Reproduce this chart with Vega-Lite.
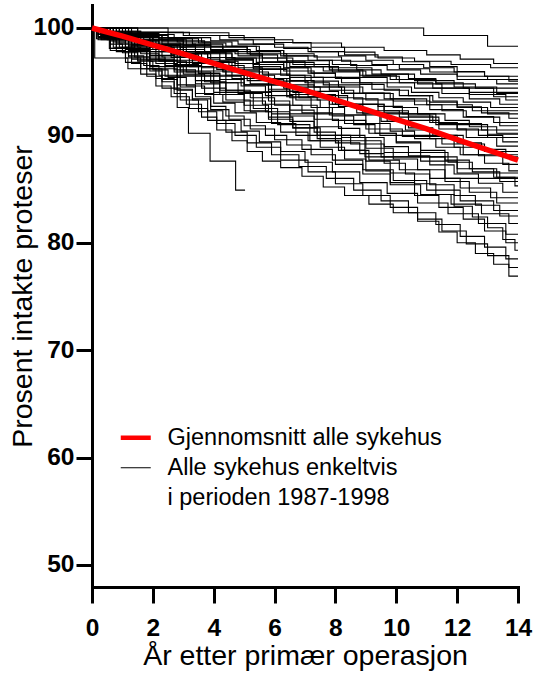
{
  "$schema": "https://vega.github.io/schema/vega-lite/v6.json",
  "width": 426,
  "height": 582,
  "autosize": {"type": "none"},
  "padding": {"left": 92, "top": 5, "right": 18, "bottom": 87},
  "background": "white",
  "config": {
    "view": {"stroke": null},
    "font": "Liberation Sans",
    "axis": {
      "domainColor": "black", "domainWidth": 3, "domainCap": "square",
      "tickColor": "black", "tickWidth": 3, "tickSize": 16,
      "labelColor": "black", "labelFont": "Liberation Sans", "labelFontSize": 24.5, "labelFontWeight": "bold",
      "titleFont": "Liberation Sans", "titleFontSize": 28.5, "titleFontWeight": "normal", "titleColor": "black",
      "grid": false
    }
  },
  "datasets": {
    "snitt": [
      {"t":0,"p":100},{"t":1,"p":99.25},{"t":2,"p":98.4},{"t":3,"p":97.6},{"t":4,"p":96.7},{"t":5,"p":95.85},{"t":6,"p":95.0},{"t":7,"p":94.2},
      {"t":8,"p":93.3},{"t":9,"p":92.4},{"t":10,"p":91.5},{"t":11,"p":90.6},{"t":12,"p":89.6},{"t":13,"p":88.65},{"t":14,"p":87.7}
    ],
    "sykehus": [
      {"h":"s01","t":0,"p":100},{"h":"s01","t":10.9,"p":99.3},{"h":"s01","t":13,"p":98.3},{"h":"s01","t":14,"p":98.3},
      {"h":"s02","t":0,"p":100},{"h":"s02","t":1.5,"p":99.6},{"h":"s02","t":3.2,"p":99.3},{"h":"s02","t":5,"p":98.9},{"h":"s02","t":6.6,"p":98.6},{"h":"s02","t":8.2,"p":98.2},{"h":"s02","t":9.6,"p":97.9},{"h":"s02","t":11,"p":97.5},{"h":"s02","t":12.1,"p":97.1},{"h":"s02","t":13.2,"p":96.7},{"h":"s02","t":14,"p":96.7},
      {"h":"s03","t":0,"p":100},{"h":"s03","t":0.5,"p":99.7},{"h":"s03","t":1.6,"p":99.4},{"h":"s03","t":2.7,"p":99.1},{"h":"s03","t":3.9,"p":98.8},{"h":"s03","t":4.8,"p":98.5},{"h":"s03","t":6,"p":98.2},{"h":"s03","t":7.1,"p":97.8},{"h":"s03","t":8.3,"p":97.5},{"h":"s03","t":9.4,"p":97.2},{"h":"s03","t":10.6,"p":96.9},{"h":"s03","t":11.8,"p":96.6},{"h":"s03","t":13.1,"p":96.3},{"h":"s03","t":14,"p":96.3},
      {"h":"s04","t":0,"p":100},{"h":"s04","t":1.5,"p":99.6},{"h":"s04","t":3,"p":99.3},{"h":"s04","t":4.2,"p":98.9},{"h":"s04","t":5.3,"p":98.5},{"h":"s04","t":6.3,"p":98.1},{"h":"s04","t":7.2,"p":97.8},{"h":"s04","t":8.1,"p":97.4},{"h":"s04","t":9,"p":97},{"h":"s04","t":9.9,"p":96.6},{"h":"s04","t":10.9,"p":96.3},{"h":"s04","t":11.9,"p":95.9},{"h":"s04","t":12.9,"p":95.5},{"h":"s04","t":14,"p":95.5},
      {"h":"s05","t":0,"p":100},{"h":"s05","t":0.7,"p":99.7},{"h":"s05","t":1.6,"p":99.3},{"h":"s05","t":2.5,"p":99},{"h":"s05","t":3.5,"p":98.6},{"h":"s05","t":4.4,"p":98.3},{"h":"s05","t":5.4,"p":97.9},{"h":"s05","t":6.3,"p":97.6},{"h":"s05","t":7.3,"p":97.3},{"h":"s05","t":8.2,"p":96.9},{"h":"s05","t":9.2,"p":96.6},{"h":"s05","t":10.1,"p":96.2},{"h":"s05","t":11.1,"p":95.9},{"h":"s05","t":12,"p":95.5},{"h":"s05","t":13,"p":95.2},{"h":"s05","t":14,"p":95.2},
      {"h":"s06","t":0,"p":100},{"h":"s06","t":0.4,"p":99.6},{"h":"s06","t":1.5,"p":99.1},{"h":"s06","t":2.8,"p":98.7},{"h":"s06","t":3.9,"p":98.3},{"h":"s06","t":5.1,"p":97.8},{"h":"s06","t":6.2,"p":97.4},{"h":"s06","t":7.4,"p":97},{"h":"s06","t":8.5,"p":96.5},{"h":"s06","t":9.7,"p":96.1},{"h":"s06","t":10.8,"p":95.7},{"h":"s06","t":12,"p":95.2},{"h":"s06","t":13.3,"p":94.8},{"h":"s06","t":14,"p":94.8},
      {"h":"s07","t":0,"p":100},{"h":"s07","t":0.3,"p":99.6},{"h":"s07","t":0.9,"p":99.2},{"h":"s07","t":1.5,"p":98.8},{"h":"s07","t":2.2,"p":98.4},{"h":"s07","t":2.9,"p":98},{"h":"s07","t":3.7,"p":97.6},{"h":"s07","t":4.6,"p":97.2},{"h":"s07","t":5.5,"p":96.8},{"h":"s07","t":6.5,"p":96.4},{"h":"s07","t":7.6,"p":96},{"h":"s07","t":8.8,"p":95.6},{"h":"s07","t":10,"p":95.2},{"h":"s07","t":11.3,"p":94.8},{"h":"s07","t":12.6,"p":94.4},{"h":"s07","t":14,"p":94.4},
      {"h":"s08","t":0,"p":100},{"h":"s08","t":1.2,"p":99.6},{"h":"s08","t":2.5,"p":99.1},{"h":"s08","t":3.6,"p":98.7},{"h":"s08","t":4.6,"p":98.3},{"h":"s08","t":5.5,"p":97.9},{"h":"s08","t":6.3,"p":97.4},{"h":"s08","t":7.1,"p":97},{"h":"s08","t":7.9,"p":96.6},{"h":"s08","t":8.7,"p":96.1},{"h":"s08","t":9.5,"p":95.7},{"h":"s08","t":10.4,"p":95.3},{"h":"s08","t":11.3,"p":94.9},{"h":"s08","t":12.2,"p":94.4},{"h":"s08","t":13.2,"p":94},{"h":"s08","t":14,"p":94},
      {"h":"s09","t":0,"p":100},{"h":"s09","t":0.5,"p":99.6},{"h":"s09","t":1.3,"p":99.2},{"h":"s09","t":2.2,"p":98.8},{"h":"s09","t":3,"p":98.4},{"h":"s09","t":3.9,"p":98},{"h":"s09","t":4.7,"p":97.6},{"h":"s09","t":5.6,"p":97.2},{"h":"s09","t":6.4,"p":96.8},{"h":"s09","t":7.3,"p":96.4},{"h":"s09","t":8.1,"p":96},{"h":"s09","t":9,"p":95.6},{"h":"s09","t":9.8,"p":95.2},{"h":"s09","t":10.7,"p":94.8},{"h":"s09","t":11.5,"p":94.4},{"h":"s09","t":12.4,"p":94},{"h":"s09","t":13.2,"p":93.6},{"h":"s09","t":14,"p":93.6},
      {"h":"s10","t":0,"p":100},{"h":"s10","t":0.8,"p":99.4},{"h":"s10","t":2,"p":98.9},{"h":"s10","t":3.1,"p":98.3},{"h":"s10","t":4.3,"p":97.8},{"h":"s10","t":5.5,"p":97.2},{"h":"s10","t":6.6,"p":96.6},{"h":"s10","t":7.8,"p":96.1},{"h":"s10","t":8.9,"p":95.5},{"h":"s10","t":10.1,"p":94.9},{"h":"s10","t":11.2,"p":94.4},{"h":"s10","t":12.4,"p":93.8},{"h":"s10","t":13.6,"p":93.3},{"h":"s10","t":14,"p":93.3},
      {"h":"s11","t":0,"p":100},{"h":"s11","t":1,"p":99.5},{"h":"s11","t":2.2,"p":99},{"h":"s11","t":3.3,"p":98.5},{"h":"s11","t":4.3,"p":98},{"h":"s11","t":5.2,"p":97.5},{"h":"s11","t":6.1,"p":96.9},{"h":"s11","t":7,"p":96.4},{"h":"s11","t":7.9,"p":95.9},{"h":"s11","t":8.8,"p":95.4},{"h":"s11","t":9.7,"p":94.9},{"h":"s11","t":10.6,"p":94.4},{"h":"s11","t":11.5,"p":93.9},{"h":"s11","t":12.4,"p":93.4},{"h":"s11","t":13.4,"p":92.9},{"h":"s11","t":14,"p":92.9},
      {"h":"s12","t":0,"p":100},{"h":"s12","t":0.3,"p":99.5},{"h":"s12","t":1.2,"p":99.1},{"h":"s12","t":2,"p":98.6},{"h":"s12","t":2.9,"p":98.2},{"h":"s12","t":3.7,"p":97.7},{"h":"s12","t":4.6,"p":97.2},{"h":"s12","t":5.4,"p":96.8},{"h":"s12","t":6.3,"p":96.3},{"h":"s12","t":7.1,"p":95.8},{"h":"s12","t":8,"p":95.4},{"h":"s12","t":8.8,"p":94.9},{"h":"s12","t":9.7,"p":94.5},{"h":"s12","t":10.5,"p":94},{"h":"s12","t":11.4,"p":93.5},{"h":"s12","t":12.2,"p":93.1},{"h":"s12","t":13.1,"p":92.6},{"h":"s12","t":14,"p":92.6},
      {"h":"s13","t":0,"p":100},{"h":"s13","t":0.2,"p":99.45},{"h":"s13","t":0.7,"p":98.9},{"h":"s13","t":1.3,"p":98.35},{"h":"s13","t":1.9,"p":97.8},{"h":"s13","t":2.6,"p":97.25},{"h":"s13","t":3.3,"p":96.7},{"h":"s13","t":4.1,"p":96.15},{"h":"s13","t":5,"p":95.6},{"h":"s13","t":6,"p":95.05},{"h":"s13","t":7.1,"p":94.5},{"h":"s13","t":8.3,"p":93.95},{"h":"s13","t":9.6,"p":93.4},{"h":"s13","t":11,"p":92.85},{"h":"s13","t":12.5,"p":92.3},{"h":"s13","t":14,"p":92.3},
      {"h":"s14","t":0,"p":100},{"h":"s14","t":0.6,"p":99.4},{"h":"s14","t":1.5,"p":98.9},{"h":"s14","t":2.5,"p":98.3},{"h":"s14","t":3.4,"p":97.7},{"h":"s14","t":4.4,"p":97.1},{"h":"s14","t":5.3,"p":96.6},{"h":"s14","t":6.3,"p":96},{"h":"s14","t":7.3,"p":95.4},{"h":"s14","t":8.2,"p":94.9},{"h":"s14","t":9.2,"p":94.3},{"h":"s14","t":10.1,"p":93.7},{"h":"s14","t":11.1,"p":93.1},{"h":"s14","t":12,"p":92.6},{"h":"s14","t":13,"p":92},{"h":"s14","t":14,"p":92},
      {"h":"s15","t":0,"p":100},{"h":"s15","t":0.9,"p":99.5},{"h":"s15","t":2,"p":98.95},{"h":"s15","t":3,"p":98.4},{"h":"s15","t":3.9,"p":97.9},{"h":"s15","t":4.8,"p":97.4},{"h":"s15","t":5.6,"p":96.85},{"h":"s15","t":6.4,"p":96.3},{"h":"s15","t":7.2,"p":95.8},{"h":"s15","t":8,"p":95.3},{"h":"s15","t":8.8,"p":94.75},{"h":"s15","t":9.6,"p":94.2},{"h":"s15","t":10.4,"p":93.7},{"h":"s15","t":11.2,"p":93.2},{"h":"s15","t":12,"p":92.65},{"h":"s15","t":12.8,"p":92.1},{"h":"s15","t":13.7,"p":91.6},{"h":"s15","t":14,"p":91.6},
      {"h":"s16","t":0,"p":100},{"h":"s16","t":0.4,"p":99.45},{"h":"s16","t":1.3,"p":98.9},{"h":"s16","t":2.1,"p":98.35},{"h":"s16","t":3,"p":97.8},{"h":"s16","t":3.8,"p":97.25},{"h":"s16","t":4.7,"p":96.7},{"h":"s16","t":5.5,"p":96.15},{"h":"s16","t":6.4,"p":95.6},{"h":"s16","t":7.2,"p":95.05},{"h":"s16","t":8.1,"p":94.5},{"h":"s16","t":8.9,"p":93.95},{"h":"s16","t":9.8,"p":93.4},{"h":"s16","t":10.6,"p":92.85},{"h":"s16","t":11.5,"p":92.3},{"h":"s16","t":12.3,"p":91.75},{"h":"s16","t":13.2,"p":91.2},{"h":"s16","t":14,"p":91.2},
      {"h":"s17","t":0,"p":100},{"h":"s17","t":0.7,"p":99.2},{"h":"s17","t":1.9,"p":98.5},{"h":"s17","t":3,"p":97.7},{"h":"s17","t":4.2,"p":97},{"h":"s17","t":5.3,"p":96.2},{"h":"s17","t":6.5,"p":95.4},{"h":"s17","t":7.6,"p":94.7},{"h":"s17","t":8.8,"p":93.9},{"h":"s17","t":9.9,"p":93.2},{"h":"s17","t":11.1,"p":92.4},{"h":"s17","t":12.2,"p":91.7},{"h":"s17","t":13.4,"p":90.9},{"h":"s17","t":14,"p":90.9},
      {"h":"s18","t":0,"p":100},{"h":"s18","t":0.2,"p":99.4},{"h":"s18","t":0.6,"p":98.8},{"h":"s18","t":1.1,"p":98.2},{"h":"s18","t":1.6,"p":97.6},{"h":"s18","t":2.2,"p":97},{"h":"s18","t":2.8,"p":96.4},{"h":"s18","t":3.5,"p":95.8},{"h":"s18","t":4.2,"p":95.2},{"h":"s18","t":5,"p":94.7},{"h":"s18","t":5.8,"p":94.1},{"h":"s18","t":6.8,"p":93.5},{"h":"s18","t":7.8,"p":92.9},{"h":"s18","t":8.9,"p":92.3},{"h":"s18","t":10.1,"p":91.7},{"h":"s18","t":11.4,"p":91.1},{"h":"s18","t":12.8,"p":90.5},{"h":"s18","t":14,"p":90.5},
      {"h":"s19","t":0,"p":100},{"h":"s19","t":0.5,"p":99.4},{"h":"s19","t":1.4,"p":98.8},{"h":"s19","t":2.2,"p":98.2},{"h":"s19","t":3.1,"p":97.6},{"h":"s19","t":3.9,"p":96.9},{"h":"s19","t":4.8,"p":96.3},{"h":"s19","t":5.6,"p":95.7},{"h":"s19","t":6.5,"p":95.1},{"h":"s19","t":7.3,"p":94.5},{"h":"s19","t":8.2,"p":93.9},{"h":"s19","t":9,"p":93.3},{"h":"s19","t":9.9,"p":92.6},{"h":"s19","t":10.7,"p":92},{"h":"s19","t":11.6,"p":91.4},{"h":"s19","t":12.4,"p":90.8},{"h":"s19","t":13.3,"p":90.2},{"h":"s19","t":14,"p":90.2},
      {"h":"s20","t":0,"p":100},{"h":"s20","t":1.1,"p":99.3},{"h":"s20","t":2.3,"p":98.5},{"h":"s20","t":3.4,"p":97.8},{"h":"s20","t":4.4,"p":97.1},{"h":"s20","t":5.3,"p":96.4},{"h":"s20","t":6.2,"p":95.6},{"h":"s20","t":7,"p":94.9},{"h":"s20","t":7.8,"p":94.2},{"h":"s20","t":8.6,"p":93.4},{"h":"s20","t":9.4,"p":92.7},{"h":"s20","t":10.2,"p":92},{"h":"s20","t":11.1,"p":91.2},{"h":"s20","t":12,"p":90.5},{"h":"s20","t":13,"p":89.8},{"h":"s20","t":14,"p":89.8},
      {"h":"s21","t":0,"p":100},{"h":"s21","t":0.3,"p":99.4},{"h":"s21","t":1.1,"p":98.8},{"h":"s21","t":1.9,"p":98.2},{"h":"s21","t":2.7,"p":97.6},{"h":"s21","t":3.4,"p":97.1},{"h":"s21","t":4.2,"p":96.5},{"h":"s21","t":5,"p":95.9},{"h":"s21","t":5.8,"p":95.3},{"h":"s21","t":6.5,"p":94.7},{"h":"s21","t":7.3,"p":94.1},{"h":"s21","t":8.1,"p":93.5},{"h":"s21","t":8.9,"p":92.9},{"h":"s21","t":9.6,"p":92.3},{"h":"s21","t":10.4,"p":91.8},{"h":"s21","t":11.2,"p":91.2},{"h":"s21","t":12,"p":90.6},{"h":"s21","t":12.7,"p":90},{"h":"s21","t":13.5,"p":89.4},{"h":"s21","t":14,"p":89.4},
      {"h":"s22","t":0,"p":100},{"h":"s22","t":0.6,"p":99.2},{"h":"s22","t":1.6,"p":98.4},{"h":"s22","t":2.6,"p":97.6},{"h":"s22","t":3.6,"p":96.9},{"h":"s22","t":4.5,"p":96.1},{"h":"s22","t":5.5,"p":95.3},{"h":"s22","t":6.5,"p":94.5},{"h":"s22","t":7.5,"p":93.7},{"h":"s22","t":8.4,"p":92.9},{"h":"s22","t":9.4,"p":92.1},{"h":"s22","t":10.4,"p":91.4},{"h":"s22","t":11.4,"p":90.6},{"h":"s22","t":12.3,"p":89.8},{"h":"s22","t":13.3,"p":89},{"h":"s22","t":14,"p":89},
      {"h":"s23","t":0,"p":100},{"h":"s23","t":0.3,"p":99.3},{"h":"s23","t":0.8,"p":98.6},{"h":"s23","t":1.3,"p":97.8},{"h":"s23","t":1.8,"p":97.1},{"h":"s23","t":2.4,"p":96.4},{"h":"s23","t":3,"p":95.7},{"h":"s23","t":3.7,"p":95},{"h":"s23","t":4.4,"p":94.2},{"h":"s23","t":5.2,"p":93.5},{"h":"s23","t":6,"p":92.8},{"h":"s23","t":6.9,"p":92.1},{"h":"s23","t":7.9,"p":91.4},{"h":"s23","t":9,"p":90.6},{"h":"s23","t":10.2,"p":89.9},{"h":"s23","t":11.5,"p":89.2},{"h":"s23","t":12.9,"p":88.5},{"h":"s23","t":14,"p":88.5},
      {"h":"s24","t":0,"p":100},{"h":"s24","t":0.4,"p":99.3},{"h":"s24","t":1.2,"p":98.7},{"h":"s24","t":2,"p":98},{"h":"s24","t":2.7,"p":97.3},{"h":"s24","t":3.5,"p":96.7},{"h":"s24","t":4.3,"p":96},{"h":"s24","t":5,"p":95.3},{"h":"s24","t":5.8,"p":94.7},{"h":"s24","t":6.6,"p":94},{"h":"s24","t":7.4,"p":93.3},{"h":"s24","t":8.1,"p":92.7},{"h":"s24","t":8.9,"p":92},{"h":"s24","t":9.7,"p":91.3},{"h":"s24","t":10.4,"p":90.7},{"h":"s24","t":11.2,"p":90},{"h":"s24","t":12,"p":89.3},{"h":"s24","t":12.8,"p":88.7},{"h":"s24","t":13.6,"p":88},{"h":"s24","t":14,"p":88},
      {"h":"s25","t":0,"p":100},{"h":"s25","t":0.8,"p":99.2},{"h":"s25","t":1.9,"p":98.4},{"h":"s25","t":2.9,"p":97.6},{"h":"s25","t":3.8,"p":96.8},{"h":"s25","t":4.7,"p":96},{"h":"s25","t":5.5,"p":95.2},{"h":"s25","t":6.3,"p":94.4},{"h":"s25","t":7.1,"p":93.6},{"h":"s25","t":7.9,"p":92.9},{"h":"s25","t":8.7,"p":92.1},{"h":"s25","t":9.5,"p":91.3},{"h":"s25","t":10.3,"p":90.5},{"h":"s25","t":11.1,"p":89.7},{"h":"s25","t":11.9,"p":88.9},{"h":"s25","t":12.7,"p":88.1},{"h":"s25","t":13.5,"p":87.3},{"h":"s25","t":14,"p":87.3},
      {"h":"s26","t":0,"p":100},{"h":"s26","t":0.5,"p":99.3},{"h":"s26","t":1.3,"p":98.5},{"h":"s26","t":2.1,"p":97.8},{"h":"s26","t":2.9,"p":97},{"h":"s26","t":3.6,"p":96.3},{"h":"s26","t":4.4,"p":95.6},{"h":"s26","t":5.2,"p":94.8},{"h":"s26","t":5.9,"p":94.1},{"h":"s26","t":6.7,"p":93.3},{"h":"s26","t":7.5,"p":92.6},{"h":"s26","t":8.3,"p":91.9},{"h":"s26","t":9,"p":91.1},{"h":"s26","t":9.8,"p":90.4},{"h":"s26","t":10.6,"p":89.7},{"h":"s26","t":11.3,"p":88.9},{"h":"s26","t":12.1,"p":88.2},{"h":"s26","t":12.9,"p":87.4},{"h":"s26","t":13.7,"p":86.7},{"h":"s26","t":14,"p":86.7},
      {"h":"s27","t":0,"p":100},{"h":"s27","t":0.2,"p":99.2},{"h":"s27","t":0.6,"p":98.5},{"h":"s27","t":1,"p":97.7},{"h":"s27","t":1.5,"p":96.9},{"h":"s27","t":2,"p":96.1},{"h":"s27","t":2.5,"p":95.4},{"h":"s27","t":3.1,"p":94.6},{"h":"s27","t":3.7,"p":93.8},{"h":"s27","t":4.3,"p":93.1},{"h":"s27","t":5,"p":92.3},{"h":"s27","t":5.8,"p":91.5},{"h":"s27","t":6.6,"p":90.7},{"h":"s27","t":7.5,"p":90},{"h":"s27","t":8.5,"p":89.2},{"h":"s27","t":9.6,"p":88.4},{"h":"s27","t":10.8,"p":87.6},{"h":"s27","t":12,"p":86.9},{"h":"s27","t":13.3,"p":86.1},{"h":"s27","t":14,"p":86.1},
      {"h":"s28","t":0,"p":100},{"h":"s28","t":0.6,"p":99.1},{"h":"s28","t":1.5,"p":98.2},{"h":"s28","t":2.3,"p":97.3},{"h":"s28","t":3.2,"p":96.4},{"h":"s28","t":4,"p":95.5},{"h":"s28","t":4.9,"p":94.6},{"h":"s28","t":5.7,"p":93.7},{"h":"s28","t":6.6,"p":92.8},{"h":"s28","t":7.4,"p":92},{"h":"s28","t":8.3,"p":91.1},{"h":"s28","t":9.1,"p":90.2},{"h":"s28","t":10,"p":89.3},{"h":"s28","t":10.8,"p":88.4},{"h":"s28","t":11.7,"p":87.5},{"h":"s28","t":12.5,"p":86.6},{"h":"s28","t":13.4,"p":85.7},{"h":"s28","t":14,"p":85.7},
      {"h":"s29","t":0,"p":100},{"h":"s29","t":0.7,"p":99.2},{"h":"s29","t":1.7,"p":98.4},{"h":"s29","t":2.6,"p":97.5},{"h":"s29","t":3.5,"p":96.7},{"h":"s29","t":4.3,"p":95.9},{"h":"s29","t":5.1,"p":95.1},{"h":"s29","t":5.8,"p":94.3},{"h":"s29","t":6.5,"p":93.5},{"h":"s29","t":7.2,"p":92.6},{"h":"s29","t":7.9,"p":91.8},{"h":"s29","t":8.6,"p":91},{"h":"s29","t":9.3,"p":90.2},{"h":"s29","t":10,"p":89.4},{"h":"s29","t":10.8,"p":88.6},{"h":"s29","t":11.6,"p":87.7},{"h":"s29","t":12.4,"p":86.9},{"h":"s29","t":13.2,"p":86.1},{"h":"s29","t":13.9,"p":85.3},{"h":"s29","t":14,"p":85.3},
      {"h":"s30","t":0,"p":100},{"h":"s30","t":0.4,"p":99.15},{"h":"s30","t":1.2,"p":98.3},{"h":"s30","t":1.9,"p":97.45},{"h":"s30","t":2.7,"p":96.6},{"h":"s30","t":3.5,"p":95.75},{"h":"s30","t":4.2,"p":94.9},{"h":"s30","t":5,"p":94.05},{"h":"s30","t":5.8,"p":93.2},{"h":"s30","t":6.5,"p":92.35},{"h":"s30","t":7.3,"p":91.5},{"h":"s30","t":8.1,"p":90.65},{"h":"s30","t":8.8,"p":89.8},{"h":"s30","t":9.6,"p":88.95},{"h":"s30","t":10.4,"p":88.1},{"h":"s30","t":11.1,"p":87.25},{"h":"s30","t":11.9,"p":86.4},{"h":"s30","t":12.7,"p":85.55},{"h":"s30","t":13.5,"p":84.7},{"h":"s30","t":14,"p":84.7},
      {"h":"s31","t":0,"p":100},{"h":"s31","t":0.3,"p":99.1},{"h":"s31","t":0.7,"p":98.2},{"h":"s31","t":1.2,"p":97.4},{"h":"s31","t":1.7,"p":96.5},{"h":"s31","t":2.2,"p":95.6},{"h":"s31","t":2.8,"p":94.7},{"h":"s31","t":3.4,"p":93.9},{"h":"s31","t":4,"p":93},{"h":"s31","t":4.7,"p":92.1},{"h":"s31","t":5.4,"p":91.2},{"h":"s31","t":6.2,"p":90.3},{"h":"s31","t":7.1,"p":89.5},{"h":"s31","t":8.1,"p":88.6},{"h":"s31","t":9.1,"p":87.7},{"h":"s31","t":10.1,"p":86.8},{"h":"s31","t":11.1,"p":86},{"h":"s31","t":12.1,"p":85.1},{"h":"s31","t":13.1,"p":84.2},{"h":"s31","t":14,"p":84.2},
      {"h":"s32","t":0,"p":100},{"h":"s32","t":0.5,"p":99},{"h":"s32","t":1.4,"p":98},{"h":"s32","t":2.2,"p":96.9},{"h":"s32","t":3.1,"p":95.9},{"h":"s32","t":3.9,"p":94.9},{"h":"s32","t":4.8,"p":93.9},{"h":"s32","t":5.6,"p":92.9},{"h":"s32","t":6.5,"p":91.8},{"h":"s32","t":7.3,"p":90.8},{"h":"s32","t":8.2,"p":89.8},{"h":"s32","t":9,"p":88.8},{"h":"s32","t":9.9,"p":87.8},{"h":"s32","t":10.7,"p":86.8},{"h":"s32","t":11.6,"p":85.7},{"h":"s32","t":12.4,"p":84.7},{"h":"s32","t":13.3,"p":83.7},{"h":"s32","t":14,"p":83.7},
      {"h":"s33","t":0,"p":100},{"h":"s33","t":0.2,"p":99.1},{"h":"s33","t":0.6,"p":98.1},{"h":"s33","t":1.1,"p":97.2},{"h":"s33","t":1.6,"p":96.2},{"h":"s33","t":2.1,"p":95.3},{"h":"s33","t":2.7,"p":94.3},{"h":"s33","t":3.3,"p":93.4},{"h":"s33","t":3.9,"p":92.4},{"h":"s33","t":4.5,"p":91.5},{"h":"s33","t":5.2,"p":90.6},{"h":"s33","t":6,"p":89.6},{"h":"s33","t":6.9,"p":88.7},{"h":"s33","t":7.9,"p":87.7},{"h":"s33","t":8.9,"p":86.8},{"h":"s33","t":9.9,"p":85.8},{"h":"s33","t":11,"p":84.9},{"h":"s33","t":12.1,"p":83.9},{"h":"s33","t":13.2,"p":83},{"h":"s33","t":14,"p":83},
      {"h":"s34","t":0,"p":100},{"h":"s34","t":0.4,"p":99},{"h":"s34","t":1.1,"p":98.1},{"h":"s34","t":1.9,"p":97.1},{"h":"s34","t":2.7,"p":96.1},{"h":"s34","t":3.4,"p":95.1},{"h":"s34","t":4.2,"p":94.2},{"h":"s34","t":5,"p":93.2},{"h":"s34","t":5.7,"p":92.2},{"h":"s34","t":6.5,"p":91.3},{"h":"s34","t":7.3,"p":90.3},{"h":"s34","t":8,"p":89.3},{"h":"s34","t":8.8,"p":88.3},{"h":"s34","t":9.6,"p":87.4},{"h":"s34","t":10.3,"p":86.4},{"h":"s34","t":11.1,"p":85.4},{"h":"s34","t":11.9,"p":84.4},{"h":"s34","t":12.6,"p":83.5},{"h":"s34","t":13.4,"p":82.5},{"h":"s34","t":14,"p":82.5},
      {"h":"s35","t":0,"p":100},{"h":"s35","t":0.4,"p":99.1},{"h":"s35","t":0.9,"p":98.2},{"h":"s35","t":1.4,"p":97.3},{"h":"s35","t":1.9,"p":96.4},{"h":"s35","t":2.4,"p":95.5},{"h":"s35","t":2.9,"p":94.5},{"h":"s35","t":3.4,"p":93.6},{"h":"s35","t":3.9,"p":92.7},{"h":"s35","t":4.4,"p":91.8},{"h":"s35","t":5,"p":90.9},{"h":"s35","t":5.7,"p":90},{"h":"s35","t":6.4,"p":89.1},{"h":"s35","t":7.2,"p":88.2},{"h":"s35","t":8,"p":87.3},{"h":"s35","t":8.9,"p":86.4},{"h":"s35","t":9.8,"p":85.4},{"h":"s35","t":10.8,"p":84.5},{"h":"s35","t":11.8,"p":83.6},{"h":"s35","t":12.8,"p":82.7},{"h":"s35","t":13.7,"p":81.8},{"h":"s35","t":14,"p":81.8},
      {"h":"s36","t":0,"p":100},{"h":"s36","t":0.3,"p":99},{"h":"s36","t":0.8,"p":98.1},{"h":"s36","t":1.3,"p":97.1},{"h":"s36","t":1.8,"p":96.2},{"h":"s36","t":2.3,"p":95.2},{"h":"s36","t":2.8,"p":94.2},{"h":"s36","t":3.3,"p":93.3},{"h":"s36","t":3.8,"p":92.3},{"h":"s36","t":4.3,"p":91.4},{"h":"s36","t":4.9,"p":90.4},{"h":"s36","t":5.5,"p":89.4},{"h":"s36","t":6.2,"p":88.5},{"h":"s36","t":7,"p":87.5},{"h":"s36","t":7.9,"p":86.6},{"h":"s36","t":8.8,"p":85.6},{"h":"s36","t":9.7,"p":84.6},{"h":"s36","t":10.7,"p":83.7},{"h":"s36","t":11.7,"p":82.7},{"h":"s36","t":12.7,"p":81.8},{"h":"s36","t":13.6,"p":80.8},{"h":"s36","t":14,"p":80.8},
      {"h":"s37","t":0,"p":100},{"h":"s37","t":0.5,"p":98.9},{"h":"s37","t":1.3,"p":97.8},{"h":"s37","t":2.1,"p":96.7},{"h":"s37","t":2.8,"p":95.6},{"h":"s37","t":3.6,"p":94.4},{"h":"s37","t":4.4,"p":93.3},{"h":"s37","t":5.2,"p":92.2},{"h":"s37","t":5.9,"p":91.1},{"h":"s37","t":6.7,"p":90},{"h":"s37","t":7.5,"p":88.9},{"h":"s37","t":8.3,"p":87.8},{"h":"s37","t":9,"p":86.7},{"h":"s37","t":9.8,"p":85.6},{"h":"s37","t":10.6,"p":84.4},{"h":"s37","t":11.4,"p":83.3},{"h":"s37","t":12.2,"p":82.2},{"h":"s37","t":12.9,"p":81.1},{"h":"s37","t":13.6,"p":80},{"h":"s37","t":14,"p":80},
      {"h":"s38","t":0,"p":100},{"h":"s38","t":0.4,"p":99},{"h":"s38","t":1.2,"p":97.9},{"h":"s38","t":1.9,"p":96.9},{"h":"s38","t":2.7,"p":95.9},{"h":"s38","t":3.4,"p":94.8},{"h":"s38","t":4.2,"p":93.8},{"h":"s38","t":5,"p":92.8},{"h":"s38","t":5.8,"p":91.7},{"h":"s38","t":6.6,"p":90.7},{"h":"s38","t":7.4,"p":89.7},{"h":"s38","t":8.2,"p":88.6},{"h":"s38","t":9,"p":87.6},{"h":"s38","t":9.8,"p":86.5},{"h":"s38","t":10.6,"p":85.5},{"h":"s38","t":11.3,"p":84.5},{"h":"s38","t":11.9,"p":83.4},{"h":"s38","t":12.5,"p":82.4},{"h":"s38","t":13,"p":81.4},{"h":"s38","t":13.5,"p":80.3},{"h":"s38","t":13.9,"p":79.3},{"h":"s38","t":14,"p":79.3},
      {"h":"s39","t":0,"p":100},{"h":"s39","t":0.2,"p":98.9},{"h":"s39","t":0.6,"p":97.9},{"h":"s39","t":1.1,"p":96.8},{"h":"s39","t":1.6,"p":95.7},{"h":"s39","t":2.1,"p":94.6},{"h":"s39","t":2.6,"p":93.6},{"h":"s39","t":3.2,"p":92.5},{"h":"s39","t":3.8,"p":91.4},{"h":"s39","t":4.4,"p":90.3},{"h":"s39","t":5.1,"p":89.3},{"h":"s39","t":5.9,"p":88.2},{"h":"s39","t":6.8,"p":87.1},{"h":"s39","t":7.7,"p":86},{"h":"s39","t":8.6,"p":84.9},{"h":"s39","t":9.5,"p":83.9},{"h":"s39","t":10.4,"p":82.8},{"h":"s39","t":11.3,"p":81.7},{"h":"s39","t":12.1,"p":80.6},{"h":"s39","t":12.9,"p":79.6},{"h":"s39","t":13.6,"p":78.5},{"h":"s39","t":14,"p":78.5},
      {"h":"s40","t":0,"p":100},{"h":"s40","t":0.3,"p":98.9},{"h":"s40","t":0.8,"p":97.8},{"h":"s40","t":1.3,"p":96.7},{"h":"s40","t":1.8,"p":95.5},{"h":"s40","t":2.3,"p":94.4},{"h":"s40","t":2.9,"p":93.3},{"h":"s40","t":3.5,"p":92.2},{"h":"s40","t":4.1,"p":91.1},{"h":"s40","t":4.7,"p":90},{"h":"s40","t":5.4,"p":88.9},{"h":"s40","t":6.2,"p":87.7},{"h":"s40","t":7.1,"p":86.6},{"h":"s40","t":8,"p":85.5},{"h":"s40","t":8.9,"p":84.4},{"h":"s40","t":9.8,"p":83.3},{"h":"s40","t":10.7,"p":82.2},{"h":"s40","t":11.5,"p":81.1},{"h":"s40","t":12.3,"p":79.9},{"h":"s40","t":13,"p":78.8},{"h":"s40","t":13.7,"p":77.7},{"h":"s40","t":14,"p":77.7},
      {"h":"s41","t":0,"p":100},{"h":"s41","t":0.3,"p":99.4},{"h":"s41","t":0.7,"p":98.7},{"h":"s41","t":1.1,"p":98},{"h":"s41","t":1.5,"p":97},{"h":"s41","t":1.9,"p":96},{"h":"s41","t":2.3,"p":95},{"h":"s41","t":2.7,"p":93.9},{"h":"s41","t":3.1,"p":92.9},{"h":"s41","t":3.6,"p":91.7},{"h":"s41","t":4.1,"p":90.5},{"h":"s41","t":4.6,"p":89.5},{"h":"s41","t":5.1,"p":88.5},{"h":"s41","t":5.6,"p":87.6},{"h":"s41","t":6.2,"p":87},{"h":"s41","t":6.9,"p":86.2},{"h":"s41","t":7.6,"p":85.2},{"h":"s41","t":8.3,"p":84.4},{"h":"s41","t":9.1,"p":83.6},{"h":"s41","t":9.9,"p":82.8},{"h":"s41","t":10.7,"p":82},{"h":"s41","t":11.4,"p":81},{"h":"s41","t":12,"p":80},{"h":"s41","t":12.6,"p":79},{"h":"s41","t":13.2,"p":78},{"h":"s41","t":13.7,"p":76.9},{"h":"s41","t":14,"p":76.9},
      {"h":"s42","t":0,"p":100},{"h":"s42","t":0.09,"p":97.2},{"h":"s42","t":1.18,"p":96.2},{"h":"s42","t":2.8,"p":92.6},{"h":"s42","t":3.17,"p":90.2},{"h":"s42","t":3.88,"p":87.6},{"h":"s42","t":4.72,"p":84.9},{"h":"s42","t":5.03,"p":84.9},
      {"h":"s43","t":0,"p":100},{"h":"s43","t":0.9,"p":98.5},{"h":"s43","t":1.8,"p":97},{"h":"s43","t":2.9,"p":95.5},{"h":"s43","t":4,"p":94},{"h":"s43","t":5.3,"p":92.5},{"h":"s43","t":6.1,"p":91},{"h":"s43","t":7.16,"p":89.5},{"h":"s43","t":9.5,"p":88},{"h":"s43","t":12,"p":86.5},{"h":"s43","t":14,"p":86.5},
      {"h":"s44","t":0,"p":100},{"h":"s44","t":1.3,"p":98},{"h":"s44","t":2.9,"p":96},{"h":"s44","t":4.4,"p":94},{"h":"s44","t":5.9,"p":92},{"h":"s44","t":7.4,"p":90},{"h":"s44","t":8.97,"p":88},{"h":"s44","t":11.6,"p":86},{"h":"s44","t":14,"p":86},
      {"h":"s45","t":0,"p":100},{"h":"s45","t":1.2,"p":98.4},{"h":"s45","t":2.8,"p":96.8},{"h":"s45","t":4.6,"p":95.3},{"h":"s45","t":6.4,"p":93.6},{"h":"s45","t":7.8,"p":91.9},{"h":"s45","t":9.46,"p":90},{"h":"s45","t":12.2,"p":88.2},{"h":"s45","t":14,"p":88.2},
      {"h":"s46","t":0,"p":100},{"h":"s46","t":2.5,"p":99.55},{"h":"s46","t":4.5,"p":99.1},{"h":"s46","t":6,"p":98.65},{"h":"s46","t":7.2,"p":98.2},{"h":"s46","t":8.3,"p":97.75},{"h":"s46","t":9.3,"p":97.3},{"h":"s46","t":10.2,"p":96.85},{"h":"s46","t":11.1,"p":96.4},{"h":"s46","t":12,"p":95.95},{"h":"s46","t":12.9,"p":95.5},{"h":"s46","t":13.7,"p":95.05},{"h":"s46","t":14,"p":95.05},
      {"h":"s47","t":0,"p":100},{"h":"s47","t":0.9,"p":99.4},{"h":"s47","t":2.3,"p":98.8},{"h":"s47","t":3.7,"p":98.2},{"h":"s47","t":5.1,"p":97.6},{"h":"s47","t":6.4,"p":96.95},{"h":"s47","t":7.8,"p":96.3},{"h":"s47","t":9.2,"p":95.7},{"h":"s47","t":10.6,"p":95.1},{"h":"s47","t":11.9,"p":94.5},{"h":"s47","t":13.3,"p":93.9},{"h":"s47","t":14,"p":93.9},
      {"h":"s48","t":0,"p":100},{"h":"s48","t":0.15,"p":99},{"h":"s48","t":0.57,"p":98.1},{"h":"s48","t":1.2,"p":97.3},{"h":"s48","t":2.4,"p":96.5},{"h":"s48","t":3.6,"p":95.6},{"h":"s48","t":5,"p":94.7},{"h":"s48","t":6.5,"p":93.8},{"h":"s48","t":8,"p":92.9},{"h":"s48","t":9.6,"p":92},{"h":"s48","t":11.3,"p":91},{"h":"s48","t":13,"p":90.1},{"h":"s48","t":14,"p":90.1}
    ]
  },
  "encoding": {
    "x": {
      "field": "t", "type": "quantitative",
      "scale": {"domain": [0, 14], "nice": false},
      "axis": {
        "values": [0, 2, 4, 6, 8, 10, 12, 14], "title": "År etter primær operasjon",
        "labelPadding": 13, "titlePadding": 2, "labelFlush": false,
        "encode": {"labels": {"update": {"stroke": {"value": "black"}, "strokeWidth": {"value": 0.7}}}}
      }
    },
    "y": {
      "field": "p", "type": "quantitative",
      "scale": {"domain": [47.95, 102.14], "nice": false, "zero": false},
      "axis": {
        "values": [50, 60, 70, 80, 90, 100], "title": "Prosent intakte proteser",
        "labelPadding": 2, "titlePadding": -4,
        "encode": {"labels": {"update": {"stroke": {"value": "black"}, "strokeWidth": {"value": 0.7}}}}
      }
    }
  },
  "layer": [
    {
      "data": {"name": "sykehus"},
      "mark": {"type": "line", "interpolate": "step-after", "strokeWidth": 1.1},
      "encoding": {
        "detail": {"field": "h"},
        "color": {
          "datum": "Alle sykehus enkeltvis",
          "type": "nominal",
          "scale": {
            "domain": ["Gjennomsnitt alle sykehus", "Alle sykehus enkeltvis", "i perioden 1987-1998"],
            "range": ["#ff0000", "#000000", "rgba(0,0,0,0)"]
          },
          "legend": {
            "title": null, "orient": "none", "legendX": 32, "legendY": 421,
            "symbolType": "stroke", "symbolSize": 900, "symbolStrokeWidth": 1, "symbolOpacity": 1,
            "labelFont": "Liberation Sans", "labelFontSize": 23.5, "labelColor": "black", "labelOffset": 20, "labelLimit": 400,
            "rowPadding": 5, "padding": 0,
            "encode": {"symbols": {"update": {"strokeWidth": {"signal": "datum.value === 'Gjennomsnitt alle sykehus' ? 4.5 : 1"}}}}
          }
        }
      }
    },
    {
      "data": {"name": "snitt"},
      "mark": {"type": "line", "strokeWidth": 5.5},
      "encoding": {
        "color": {"datum": "Gjennomsnitt alle sykehus", "type": "nominal"}
      }
    }
  ]
}
